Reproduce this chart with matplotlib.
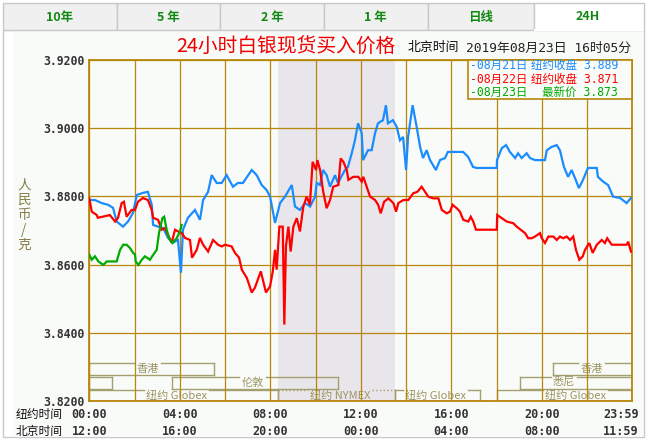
import matplotlib
matplotlib.use('Agg')
import matplotlib.pyplot as plt
import matplotlib.transforms as mtrans
from matplotlib.patches import Rectangle
import numpy as np

# ---------------- data (hours in New York time, price in CNY/g) ----------------
blue_pts = [(0, 3.8789), (0.25, 3.8789), (0.55, 3.8780), (0.83, 3.8775), (1.05, 3.8766), (1.21, 3.8726),
            (1.49, 3.8711), (1.71, 3.8726), (1.93, 3.8751), (2.10, 3.8804), (2.37, 3.8810), (2.59, 3.8813),
            (2.76, 3.8775), (2.82, 3.8716), (3.04, 3.8711), (3.26, 3.8707), (3.48, 3.8678), (3.70, 3.8664),
            (3.92, 3.8672), (4.05, 3.8576), (4.14, 3.8702), (4.36, 3.8737), (4.67, 3.8760), (4.89, 3.8731),
            (5.03, 3.8789), (5.25, 3.8813), (5.41, 3.8862), (5.63, 3.8839), (5.85, 3.8839), (6.07, 3.8862),
            (6.35, 3.8828), (6.57, 3.8839), (6.79, 3.8839), (7.18, 3.8877), (7.40, 3.8862), (7.62, 3.8833),
            (7.84, 3.8818), (7.99, 3.8799), (8.21, 3.8722), (8.43, 3.8780), (8.65, 3.8799), (8.95, 3.8833),
            (9.09, 3.8770), (9.31, 3.8760), (9.54, 3.8780), (9.76, 3.8770), (9.98, 3.8799), (10.05, 3.8839),
            (10.20, 3.8833), (10.33, 3.8877), (10.49, 3.8862), (10.64, 3.8828), (10.86, 3.8862), (10.99, 3.8839),
            (11.30, 3.8877), (11.43, 3.8886), (11.60, 3.8926), (11.74, 3.8964), (11.88, 3.9014), (12.04, 3.8985),
            (12.10, 3.8906), (12.32, 3.8935), (12.48, 3.8935), (12.63, 3.8985), (12.76, 3.9014), (12.98, 3.9023),
            (13.11, 3.9067), (13.20, 3.9014), (13.42, 3.9023), (13.59, 3.9003), (13.73, 3.8964), (13.87, 3.8974),
            (14.00, 3.8877), (14.09, 3.8974), (14.29, 3.9067), (14.47, 3.9003), (14.62, 3.8945), (14.75, 3.8912),
            (14.91, 3.8935), (15.06, 3.8906), (15.32, 3.8877), (15.50, 3.8906), (15.72, 3.8912), (15.85, 3.8930),
            (16.52, 3.8930), (16.74, 3.8916), (16.96, 3.8886), (17.12, 3.8883), (18.01, 3.8883), (18.02, 3.8906),
            (18.23, 3.8941), (18.42, 3.8950), (18.59, 3.8930), (18.82, 3.8912), (18.95, 3.8926), (19.11, 3.8912),
            (19.33, 3.8926), (19.48, 3.8912), (19.70, 3.8906), (20.14, 3.8906), (20.22, 3.8935), (20.44, 3.8945),
            (20.66, 3.8950), (20.80, 3.8935), (20.98, 3.8886), (21.16, 3.8857), (21.32, 3.8877), (21.47, 3.8853),
            (21.64, 3.8824), (21.82, 3.8848), (22.04, 3.8883), (22.43, 3.8883), (22.48, 3.8857), (22.71, 3.8843),
            (22.93, 3.8833), (23.15, 3.8799), (23.46, 3.8795), (23.75, 3.8780), (23.94, 3.8795)]

red_pts = [(0, 3.8794), (0.11, 3.8755), (0.33, 3.8745), (0.38, 3.8737), (0.91, 3.8745), (1.14, 3.8726),
           (1.27, 3.8737), (1.43, 3.8780), (1.53, 3.8784), (1.65, 3.8740), (1.87, 3.8760), (2.02, 3.8760),
           (2.15, 3.8784), (2.37, 3.8795), (2.59, 3.8789), (2.76, 3.8760), (2.82, 3.8737), (3.04, 3.8731),
           (3.20, 3.8702), (3.35, 3.8707), (3.48, 3.8687), (3.64, 3.8664), (3.79, 3.8702), (3.92, 3.8697),
           (4.08, 3.8693), (4.23, 3.8678), (4.45, 3.8672), (4.54, 3.8620), (4.75, 3.8643), (4.89, 3.8678),
           (5.03, 3.8658), (5.25, 3.8638), (5.47, 3.8672), (5.69, 3.8658), (5.85, 3.8653), (6.00, 3.8658),
           (6.29, 3.8653), (6.44, 3.8634), (6.62, 3.8620), (6.74, 3.8585), (6.96, 3.8561), (7.18, 3.8518),
           (7.32, 3.8532), (7.58, 3.8580), (7.81, 3.8518), (7.99, 3.8536), (8.11, 3.8580), (8.21, 3.8643),
           (8.28, 3.8585), (8.40, 3.8711), (8.55, 3.8711), (8.62, 3.8424), (8.69, 3.8653), (8.80, 3.8711),
           (8.90, 3.8638), (9.02, 3.8711), (9.17, 3.8736), (9.31, 3.8697), (9.46, 3.8770), (9.61, 3.8799),
           (9.75, 3.8775), (9.87, 3.8901), (10.02, 3.8877), (10.08, 3.8906), (10.20, 3.8877), (10.34, 3.8813),
           (10.49, 3.8765), (10.64, 3.8789), (10.78, 3.8828), (11.01, 3.8833), (11.11, 3.8911), (11.23, 3.8901),
           (11.38, 3.8877), (11.45, 3.8848), (11.67, 3.8857), (11.89, 3.8857), (12.04, 3.8843), (12.11, 3.8857),
           (12.26, 3.8828), (12.41, 3.8799), (12.63, 3.8789), (12.77, 3.8775), (12.88, 3.8750), (13.03, 3.8784),
           (13.22, 3.8794), (13.44, 3.8780), (13.56, 3.8755), (13.66, 3.8780), (13.88, 3.8789), (14.10, 3.8789),
           (14.32, 3.8809), (14.50, 3.8813), (14.69, 3.8828), (14.84, 3.8813), (14.98, 3.8799), (15.20, 3.8794),
           (15.43, 3.8794), (15.58, 3.8760), (15.80, 3.8750), (15.94, 3.8755), (16.06, 3.8775), (16.24, 3.8765),
           (16.38, 3.8755), (16.53, 3.8731), (16.75, 3.8726), (16.86, 3.8740), (16.97, 3.8726), (17.09, 3.8702),
           (18.01, 3.8702), (18.03, 3.8745), (18.23, 3.8736), (18.45, 3.8726), (18.74, 3.8721), (18.89, 3.8711),
           (19.26, 3.8692), (19.40, 3.8677), (19.55, 3.8677), (19.70, 3.8682), (19.92, 3.8692), (20.00, 3.8677),
           (20.14, 3.8663), (20.29, 3.8682), (20.51, 3.8682), (20.66, 3.8672), (20.80, 3.8682), (20.95, 3.8677),
           (21.10, 3.8682), (21.25, 3.8672), (21.39, 3.8682), (21.51, 3.8643), (21.66, 3.8614), (21.81, 3.8624),
           (21.91, 3.8643), (22.10, 3.8663), (22.25, 3.8634), (22.43, 3.8658), (22.65, 3.8672), (22.79, 3.8663),
           (22.89, 3.8677), (23.09, 3.8658), (23.75, 3.8658), (23.82, 3.8667), (23.94, 3.8638)]

green_pts = [(0, 3.8629), (0.11, 3.8614), (0.25, 3.8624), (0.40, 3.8609), (0.62, 3.8599), (0.77, 3.8609),
             (1.21, 3.8609), (1.36, 3.8643), (1.50, 3.8658), (1.65, 3.8658), (1.80, 3.8648), (1.94, 3.8634),
             (2.02, 3.8629), (2.05, 3.8609), (2.17, 3.8599), (2.32, 3.8614), (2.46, 3.8624), (2.68, 3.8614),
             (2.83, 3.8629), (2.98, 3.8643), (3.08, 3.8692), (3.23, 3.8736), (3.31, 3.8740), (3.42, 3.8702),
             (3.52, 3.8677), (3.67, 3.8663), (3.86, 3.8677), (4.01, 3.8697), (4.08, 3.8716)]

series_names = ['08月21日', '08月22日', '08月23日']
series_kinds = ['纽约收盘', '纽约收盘', '最新价']
series_last = ['3.889', '3.871', '3.873']

yticks = [3.82, 3.84, 3.86, 3.88, 3.90, 3.92]
ny_hours = [0, 4, 8, 12, 16, 20, 23.5]
ny_labels = ['00:00', '04:00', '08:00', '12:00', '16:00', '20:00', '23:59']
bj_labels = ['12:00', '16:00', '20:00', '00:00', '04:00', '08:00', '11:59']

nymex_span = (8.333, 13.5)
# (label, start hour, end hour, row, label hour)
sessions = [
    ('香港', 0, 5.5, 0, 2.57), ('香港', 20.5, 24, 0, 22.2),
    ('', 0, 1.0, 1, None), ('伦敦', 3.65, 11.0, 1, 7.21), ('悉尼', 19.05, 24, 1, 20.98),
    ('纽约 Globex', 0, 8.333, 2, 3.84), ('纽约 NYMEX', 8.333, 13.5, 2, 11.07),
    ('纽约 Globex', 13.5, 17.25, 2, 15.3), ('纽约 Globex', 18.0, 24, 2, 21.47),
]
tabs = ['10年', '5 年', '2 年', '1 年', '日线', '24H']

# ---------------- style ----------------
CJK = ['Noto Sans CJK SC', 'DejaVu Sans']
MONO = ['DejaVu Sans Mono', 'Noto Sans CJK SC']
W, H = 646, 440
BG = '#f9fbf8'
GRID = '#b8860b'
SESS = '#a39f6e'
BLUE, RED, GREEN = '#1a8cff', '#ff0000', '#00aa00'

fig = plt.figure(figsize=(W / 100, H / 100), dpi=100)
fig.patch.set_facecolor('white')


def fx(x):
    return x / W


def fy(y):
    return 1 - y / H


def frect(x0, y0, x1, y1, **kw):
    r = Rectangle((fx(x0), fy(y1)), (x1 - x0) / W, (y1 - y0) / H, transform=fig.transFigure, **kw)
    fig.patches.append(r)
    return r


# outer panel
frect(2.5, 30, 643.5, 437, facecolor='white', edgecolor='#c8c8c8', lw=1, zorder=-3)
frect(13, 31, 643, 436.5, facecolor=BG, edgecolor='none', lw=0, zorder=-2)

# tabs
tab_edges = [2.5, 117, 220, 324, 428, 534, 643.5]
tab_centers = [59.8, 168, 272, 375, 480.6, 588]
for i, t in enumerate(tabs):
    active = (i == len(tabs) - 1)
    frect(tab_edges[i], 3.5, tab_edges[i + 1], 30,
          facecolor='white' if active else '#f0f0f0', edgecolor='#c8c8c8', lw=1, zorder=1)
    if active:
        fig.lines.append(plt.Line2D([fx(tab_edges[i] + 1), fx(tab_edges[i + 1] - 1)], [fy(30), fy(30)],
                                    transform=fig.transFigure, color='white', lw=1.5, zorder=2))
    fig.text(fx(tab_centers[i]), fy(17), t, ha='center', va='center', fontsize=9, fontweight='bold',
             color='#118811', family=CJK, zorder=3)

# main axes
ax = fig.add_axes([fx(89.3), fy(401), (632.3 - 89.3) / W, (401 - 59.8) / H])
ax.set_zorder(2)
ax.set_facecolor(BG)
ax.set_xlim(0, 24)
ax.set_ylim(3.82, 3.92)
ax.axvspan(*nymex_span, color='#e9e6eb', lw=0, zorder=0.5)
ax.set_xticks(range(0, 25, 2))
ax.set_yticks(yticks)
ax.set_yticklabels(['%.4f' % v for v in yticks])
ax.tick_params(length=0, labelbottom=False, pad=3.6)
for lab in ax.get_yticklabels():
    lab.set_fontfamily('DejaVu Sans Mono')
    lab.set_fontweight('bold')
    lab.set_fontsize(8.3)
    lab.set_color('#333333')
ax.grid(True, color=GRID, lw=0.9)
ax.set_axisbelow(False)
for s in ax.spines.values():
    s.set_color(GRID)
    s.set_linewidth(1.3)

# price lines
for pts, col in [(blue_pts, BLUE), (red_pts, RED), (green_pts, GREEN)]:
    hs = [p[0] for p in pts]
    vs = [p[1] for p in pts]
    ax.plot(hs, vs, color=col, lw=1.6, zorder=4, solid_joinstyle='miter')

# session boxes
trans = mtrans.blended_transform_factory(ax.transData, ax.transAxes)
rows = {0: (0.0762, 0.1128), 1: (0.0366, 0.0718), 2: (0.0, 0.0337)}
sess_texts = []
for lab, h0, h1, row, lh in sessions:
    y0, y1 = rows[row]
    for xx in (h0, h1):
        ax.plot([xx, xx], [y0, y1], transform=trans, color=SESS, lw=1.0, zorder=2)
    ax.plot([h0, h1], [y0, y0], transform=trans, color=SESS, lw=1.0, zorder=2)
    t = None
    if lab:
        t = ax.text(lh, (y0 + y1) / 2, lab, transform=trans, ha='center', va='center', fontsize=8,
                    color='#9a9462', family=CJK, zorder=2)
    sess_texts.append((t, h0, h1, y1, 'NYMEX' in lab))

fig.canvas.draw()
rend = fig.canvas.get_renderer()
inv = ax.transData.inverted()
for t, h0, h1, y1, dotted in sess_texts:
    ls = ':' if dotted else '-'
    if t is None:
        ax.plot([h0, h1], [y1, y1], transform=trans, color=SESS, lw=1.0, zorder=2, ls=ls)
        continue
    bb = t.get_window_extent(rend)
    xl = inv.transform((bb.x0 - 2, 0))[0]
    xr = inv.transform((bb.x1 + 2, 0))[0]
    ax.plot([h0, xl], [y1, y1], transform=trans, color=SESS, lw=1.0, zorder=2, ls=ls)
    ax.plot([xr, h1], [y1, y1], transform=trans, color=SESS, lw=1.0, zorder=2, ls=ls)

# legend box
ax.add_patch(Rectangle((0.698, 0.884), 0.302, 0.116, transform=ax.transAxes, facecolor=BG,
                       edgecolor=GRID, lw=1.2, zorder=6, clip_on=False))
for i, (nm, kind, val, col) in enumerate(zip(series_names, series_kinds, series_last, [BLUE, RED, GREEN])):
    yy = fy(65.5 + i * 13.6)
    fig.text(fx(470), yy, '-' + nm, ha='left', va='center', fontsize=8.3, color=col, family=MONO, zorder=7)
    fig.text(fx(618), yy, kind + ' ' + val, ha='right', va='center', fontsize=8.3, color=col,
             family=MONO, zorder=7)

# title and header
fig.text(fx(176), fy(47), '24小时白银现货买入价格', ha='left', va='center', fontsize=14.2,
         color='#f00000', family=CJK, zorder=5)
fig.text(fx(408), fy(48), '北京时间', ha='left', va='center', fontsize=9.3, color='#111111', family=CJK, zorder=5)
fig.text(fx(631), fy(48), '2019年08月23日 16时05分', ha='right', va='center', fontsize=9.3,
         color='#222222', family=MONO, zorder=5)

# y label (stacked characters)
for i, ch in enumerate('人民币/克'):
    fig.text(fx(24), fy(185 + i * 15), ch, ha='center', va='center', fontsize=9.8, color='#857d45',
             family=CJK, zorder=5)

# time axis labels
xt = mtrans.blended_transform_factory(ax.transData, fig.transFigure)
fig.text(fx(16), fy(414), '纽约时间', ha='left', va='center', fontsize=8.5, color='#111111', family=CJK, zorder=5)
fig.text(fx(16), fy(431.5), '北京时间', ha='left', va='center', fontsize=8.5, color='#111111', family=CJK, zorder=5)
for h, a, b in zip(ny_hours, ny_labels, bj_labels):
    ax.text(h, fy(414), a, transform=xt, ha='center', va='center', fontsize=8.5, fontweight='bold',
            family='DejaVu Sans Mono', color='#333333', clip_on=False)
    ax.text(h, fy(431.5), b, transform=xt, ha='center', va='center', fontsize=8.5, fontweight='bold',
            family='DejaVu Sans Mono', color='#333333', clip_on=False)

fig.savefig('out.png', dpi=100, facecolor='white')
